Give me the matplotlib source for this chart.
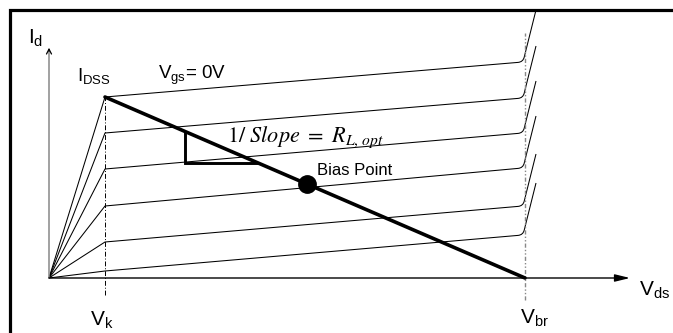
"""
FET output characteristics with the optimum load line drawn through the bias point.
"""

import matplotlib.pyplot as plt
from matplotlib.patches import PathPatch
from matplotlib.path import Path

plt.rcParams["mathtext.fontset"] = "custom"
plt.rcParams["mathtext.rm"] = "Liberation Sans"
plt.rcParams["mathtext.it"] = "Liberation Sans:italic"
plt.rcParams["font.family"] = ["Liberation Sans", "DejaVu Sans"]

# Drain voltage landmarks (arbitrary units)
v_knee = 56
v_break = 476
v_corner = 474

# Drain current at the knee and just before breakdown, one per gate voltage
knee_current = [181, 145, 109, 72, 36, 7]
sat_current = [216, 180, 145, 110, 72, 43]
breakdown_rise = 52
breakdown_dv = 13

# Load line from (Vk, Idss) down to (Vbr, 0), with the bias point on it
load_v = [v_knee, v_break]
load_i = [181, 0]
bias_v = [258]
bias_i = [94]

# Slope triangle under the load line
tri_v = [136, 136, 209]
tri_i = [146.5, 115, 115]


def curve_path(knee, sat):
    verts = [
        (0, 0),
        (v_knee, knee),
        (v_corner - 5, sat - 0.4),
        (v_corner, sat),
        (v_corner + 1.2, sat + 4.8),
        (v_corner + breakdown_dv, sat + breakdown_rise),
    ]
    codes = [Path.MOVETO, Path.LINETO, Path.LINETO,
             Path.CURVE3, Path.CURVE3, Path.LINETO]
    return Path(verts, codes)


fig = plt.figure(figsize=(6.73, 3.33), dpi=100)
ax = fig.add_axes([0, 0, 1, 1])
ax.set_xlim(-49, 624)
ax.set_ylim(-55, 278)
ax.axis("off")

# frame on top and left
ax.plot([-39, -39, 624], [-55, 268, 268], color="black", lw=2.3,
        solid_joinstyle="miter", clip_on=False)

# axes
ax.plot([0, 0], [0, 228], color="#888888", lw=1.1)
ax.annotate("", xy=(0, 233), xytext=(0, 224),
            arrowprops=dict(arrowstyle="->,head_length=0.35,head_width=0.18",
                            color="black", lw=0.9))
ax.annotate("", xy=(581, 0), xytext=(0, 0),
            arrowprops=dict(arrowstyle="-|>,head_length=0.9,head_width=0.22",
                            color="black", lw=1.0, shrinkA=0, shrinkB=0))

# knee and breakdown markers
ax.plot([v_knee, v_knee], [-17, 181], color="black", lw=0.7,
        linestyle=(0, (5, 2, 1, 2)))
ax.plot([v_break, v_break], [-22, 245], color="#888888", lw=1.0,
        linestyle=(0, (3, 1.5, 1, 1.5, 1, 1.5)))

for k, s in zip(knee_current, sat_current):
    ax.add_patch(PathPatch(curve_path(k, s), facecolor="none",
                           edgecolor="black", lw=0.75))

ax.plot(load_v, load_i, color="black", lw=2.6, solid_capstyle="round")
ax.plot(tri_v, tri_i, color="black", lw=2.1, solid_joinstyle="miter")
ax.plot(bias_v, bias_i, "o", color="black", ms=12.5)

# labels
ax.text(-21, 234, r"$\mathrm{I_d}$", fontsize=15, va="baseline")
ax.text(28, 197, r"$\mathrm{I_{DSS}}$", fontsize=13.5, va="baseline")
ax.text(109, 199, r"$\mathrm{V_{gs}}$" + "= 0V", fontsize=13.5, va="baseline")
ax.text(178, 136, r"$1/\ Slope\ =\ R_{L,\,opt}$", fontsize=16,
        va="baseline", math_fontfamily="stix")
ax.text(268, 103, "Bias Point", fontsize=12, va="baseline")
ax.text(v_knee - 3, -48, r"$\mathrm{V_k}$", fontsize=15, ha="center",
        va="baseline")
ax.text(v_break + 9, -46, r"$\mathrm{V_{br}}$", fontsize=15, ha="center",
        va="baseline")
ax.text(590, -18, r"$\mathrm{V_{ds}}$", fontsize=15, va="baseline")

fig.savefig("out.png", dpi=100)
